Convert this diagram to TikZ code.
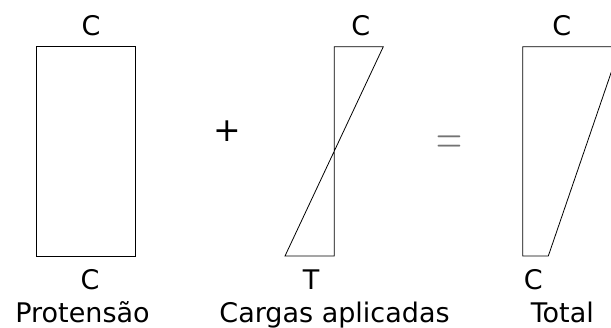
\documentclass[tikz,border=0pt]{standalone}
\usepackage{fontspec}
\setmainfont{DejaVu Sans}
\newfontfamily\lmroman{Latin Modern Roman}
\usepackage{pgf,tikz}
\definecolor{eqgray}{rgb}{0.45, 0.45, 0.45}

\begin{document}
\begin{tikzpicture}[x=1pt,y=-1pt,
  lbl/.style={anchor=base,inner sep=0pt,font=\fontsize{27}{27}\selectfont},
  sym/.style={anchor=center,inner sep=0pt,font=\fontsize{33}{33}\selectfont}]
\clip (0,0) rectangle (611,327);
\draw[line width=0.8pt] (36.7,46.7) rectangle (135,256);
\draw[line width=0.8pt] (383.3,46.7) -- (334.3,46.7) -- (334.3,256) -- (285,256) -- cycle;
\draw[line width=0.8pt] (620,46.7) -- (522.7,46.7) -- (522.7,256) -- (548.3,256) -- cycle;
\node[lbl] (ctopa) at (91,35) {C};
\node[lbl] (cbota) at (90,289) {C};
\node[lbl] (protensao) at (82.5,322.5) {Protensão};
\node[lbl] (ctopb) at (360.7,35) {C};
\node[lbl] (tbotb) at (311,289) {T};
\node[lbl] (cargas) at (334.5,322.5) {Cargas aplicadas};
\node[lbl] (ctopc) at (561.7,35) {C};
\node[lbl] (cbotc) at (533.3,289) {C};
\node[lbl] (total) at (562.3,322.5) {Total};
\node[sym] (plus) at (227.5,131.5) {+};
\node[sym,color=eqgray] (equals) at (449.5,145)
  {\scalebox{1}[1.45]{\fontsize{36}{36}\lmroman =}};
\end{tikzpicture}
\end{document}
